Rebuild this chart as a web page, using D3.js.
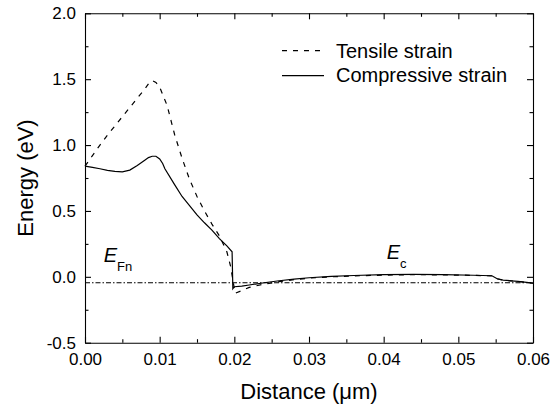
<!DOCTYPE html>
<html lang="en">
<head>
    <meta charset="UTF-8">
    <script src="https://d3js.org/d3.v7.min.js"></script>
    <title>Energy band</title>
    <style>
        body { margin: 0; background: #fff; }
        svg { display: block; font-family: "Liberation Sans", Arial, sans-serif; }
        .axis path, .axis line { stroke: #000; stroke-width: 1.1px; }
        .axis text { font-size: 17px; fill: #000; }
        .curve { fill: none; stroke: #000; stroke-width: 1.2px; }
    </style>
</head>
<body>
    <div id="chart"></div>
    <script>
        // Data (distance in um, energy in eV)
        var compX = [0, 0.001, 0.002, 0.003, 0.004, 0.005, 0.006, 0.007, 0.008, 0.0085, 0.009, 0.0095,
            0.010, 0.0104, 0.0107, 0.012, 0.013, 0.014, 0.015, 0.016, 0.017, 0.018, 0.019, 0.0197,
            0.0198, 0.0200, 0.021, 0.022, 0.024, 0.026, 0.028, 0.030, 0.033, 0.036, 0.040, 0.044,
            0.048, 0.052, 0.0545, 0.0552, 0.056, 0.058, 0.060];
        var compE = [0.84, 0.83, 0.82, 0.808, 0.800, 0.797, 0.81, 0.845, 0.885, 0.905, 0.915, 0.915,
            0.895, 0.86, 0.82, 0.70, 0.61, 0.54, 0.47, 0.41, 0.355, 0.29, 0.235, 0.19,
            -0.09, -0.075, -0.07, -0.062, -0.045, -0.03, -0.017, -0.007, 0.003, 0.01, 0.016, 0.018,
            0.017, 0.012, 0.008, -0.015, -0.025, -0.035, -0.048];

        var tensX = [0, 0.001, 0.002, 0.003, 0.004, 0.005, 0.006, 0.007, 0.008, 0.0085, 0.009, 0.0095,
            0.010, 0.011, 0.012, 0.013, 0.014, 0.015, 0.016, 0.017, 0.018, 0.019, 0.0195, 0.0201,
            0.021, 0.022, 0.024, 0.026, 0.028, 0.030, 0.033, 0.036, 0.040, 0.044, 0.048, 0.052,
            0.0545, 0.0552, 0.056, 0.058, 0.060];
        var tensE = [0.84, 0.92, 1.00, 1.075, 1.145, 1.215, 1.285, 1.355, 1.425, 1.465, 1.49, 1.475,
            1.44, 1.30, 1.08, 0.90, 0.74, 0.61, 0.50, 0.40, 0.31, 0.19, 0.08, -0.125,
            -0.105, -0.08, -0.055, -0.037, -0.022, -0.01, 0.0, 0.007, 0.013, 0.016, 0.015, 0.011,
            0.007, -0.015, -0.025, -0.035, -0.048];

        // quasi Fermi level
        var efnX = [0, 0.06];
        var efnE = [-0.045, -0.045];

        var xTicks = [0, 0.01, 0.02, 0.03, 0.04, 0.05, 0.06];
        var yTicks = [-0.5, 0.0, 0.5, 1.0, 1.5, 2.0];

        var svg = d3.select("#chart")
            .append("svg")
            .attr("width", 554)
            .attr("height", 410);

        var x = d3.scaleLinear().domain([0, 0.06]).range([85, 533]);
        var y = d3.scaleLinear().domain([-0.5, 2.0]).range([342.7, 13.3]);

        // plain hyphen for negatives, like the original
        var fmtY = function (d) { return d3.format(".1f")(d).replace("\u2212", "-"); };

        // minor ticks (inside)
        var xMinor = d3.range(0.005, 0.06, 0.01);
        var yMinor = d3.range(-0.25, 2.0, 0.5);

        svg.append("g").attr("class", "axis")
            .attr("transform", "translate(0," + y(-0.5) + ")")
            .call(d3.axisBottom(x).tickValues(xMinor).tickSize(-3.5).tickFormat(""))
            .select(".domain").remove();
        svg.append("g").attr("class", "axis")
            .attr("transform", "translate(0," + y(2.0) + ")")
            .call(d3.axisTop(x).tickValues(xMinor).tickSize(-3.5).tickFormat(""))
            .select(".domain").remove();
        svg.append("g").attr("class", "axis")
            .attr("transform", "translate(" + x(0) + ",0)")
            .call(d3.axisLeft(y).tickValues(yMinor).tickSize(-3.5).tickFormat(""))
            .select(".domain").remove();
        svg.append("g").attr("class", "axis")
            .attr("transform", "translate(" + x(0.06) + ",0)")
            .call(d3.axisRight(y).tickValues(yMinor).tickSize(-3.5).tickFormat(""))
            .select(".domain").remove();

        // major axes
        svg.append("g").attr("class", "axis")
            .attr("transform", "translate(0," + y(-0.5) + ")")
            .call(d3.axisBottom(x).tickValues(xTicks).tickSize(-6).tickSizeOuter(0)
                .tickPadding(10).tickFormat(d3.format(".2f")));
        svg.append("g").attr("class", "axis")
            .attr("transform", "translate(0," + y(2.0) + ")")
            .call(d3.axisTop(x).tickValues(xTicks).tickSize(-6).tickSizeOuter(0).tickFormat(""));
        svg.append("g").attr("class", "axis")
            .attr("transform", "translate(" + x(0) + ",0)")
            .call(d3.axisLeft(y).tickValues(yTicks).tickSize(-6).tickSizeOuter(0)
                .tickPadding(9).tickFormat(fmtY));
        svg.append("g").attr("class", "axis")
            .attr("transform", "translate(" + x(0.06) + ",0)")
            .call(d3.axisRight(y).tickValues(yTicks).tickSize(-6).tickSizeOuter(0).tickFormat(""));

        // curves
        var line = d3.line()
            .x(function (d) { return x(d[0]); })
            .y(function (d) { return y(d[1]); });

        svg.append("path")
            .attr("class", "curve")
            .attr("d", line(d3.zip(efnX, efnE)))
            .attr("stroke-width", 1)
            .attr("stroke-dasharray", "5,2,1.5,2");

        svg.append("path")
            .attr("class", "curve")
            .attr("d", line(d3.zip(tensX, tensE)))
            .attr("stroke-dasharray", "5,6");

        svg.append("path")
            .attr("class", "curve")
            .attr("d", line(d3.zip(compX, compE)));

        // legend
        var legend = svg.append("g");
        legend.append("line")
            .attr("class", "curve")
            .attr("x1", 282).attr("x2", 324)
            .attr("y1", 50.7).attr("y2", 50.7)
            .attr("stroke-dasharray", "5,6");
        legend.append("line")
            .attr("class", "curve")
            .attr("x1", 282).attr("x2", 324)
            .attr("y1", 75.7).attr("y2", 75.7);
        legend.append("text")
            .attr("x", 336).attr("y", 57.5)
            .attr("font-size", 20)
            .text("Tensile strain");
        legend.append("text")
            .attr("x", 336).attr("y", 82)
            .attr("font-size", 20)
            .text("Compressive strain");

        // band labels
        var efn = svg.append("text")
            .attr("x", x(0.0025)).attr("y", 262)
            .attr("font-size", 20);
        efn.append("tspan").attr("font-style", "italic").text("E");
        efn.append("tspan").attr("font-size", 13).attr("dy", 9).text("Fn");

        var ec = svg.append("text")
            .attr("x", x(0.0404)).attr("y", 259)
            .attr("font-size", 20);
        ec.append("tspan").attr("font-style", "italic").text("E");
        ec.append("tspan").attr("font-size", 13).attr("dy", 9).text("c");

        // axis titles
        svg.append("text")
            .attr("x", (x(0) + x(0.06)) / 2)
            .attr("y", 399)
            .attr("text-anchor", "middle")
            .attr("font-size", 22)
            .text("Distance (\u03bcm)");

        svg.append("text")
            .attr("transform", "translate(33," + y(0.75) + ") rotate(-90)")
            .attr("text-anchor", "middle")
            .attr("font-size", 22)
            .text("Energy (eV)");
    </script>
</body>
</html>
